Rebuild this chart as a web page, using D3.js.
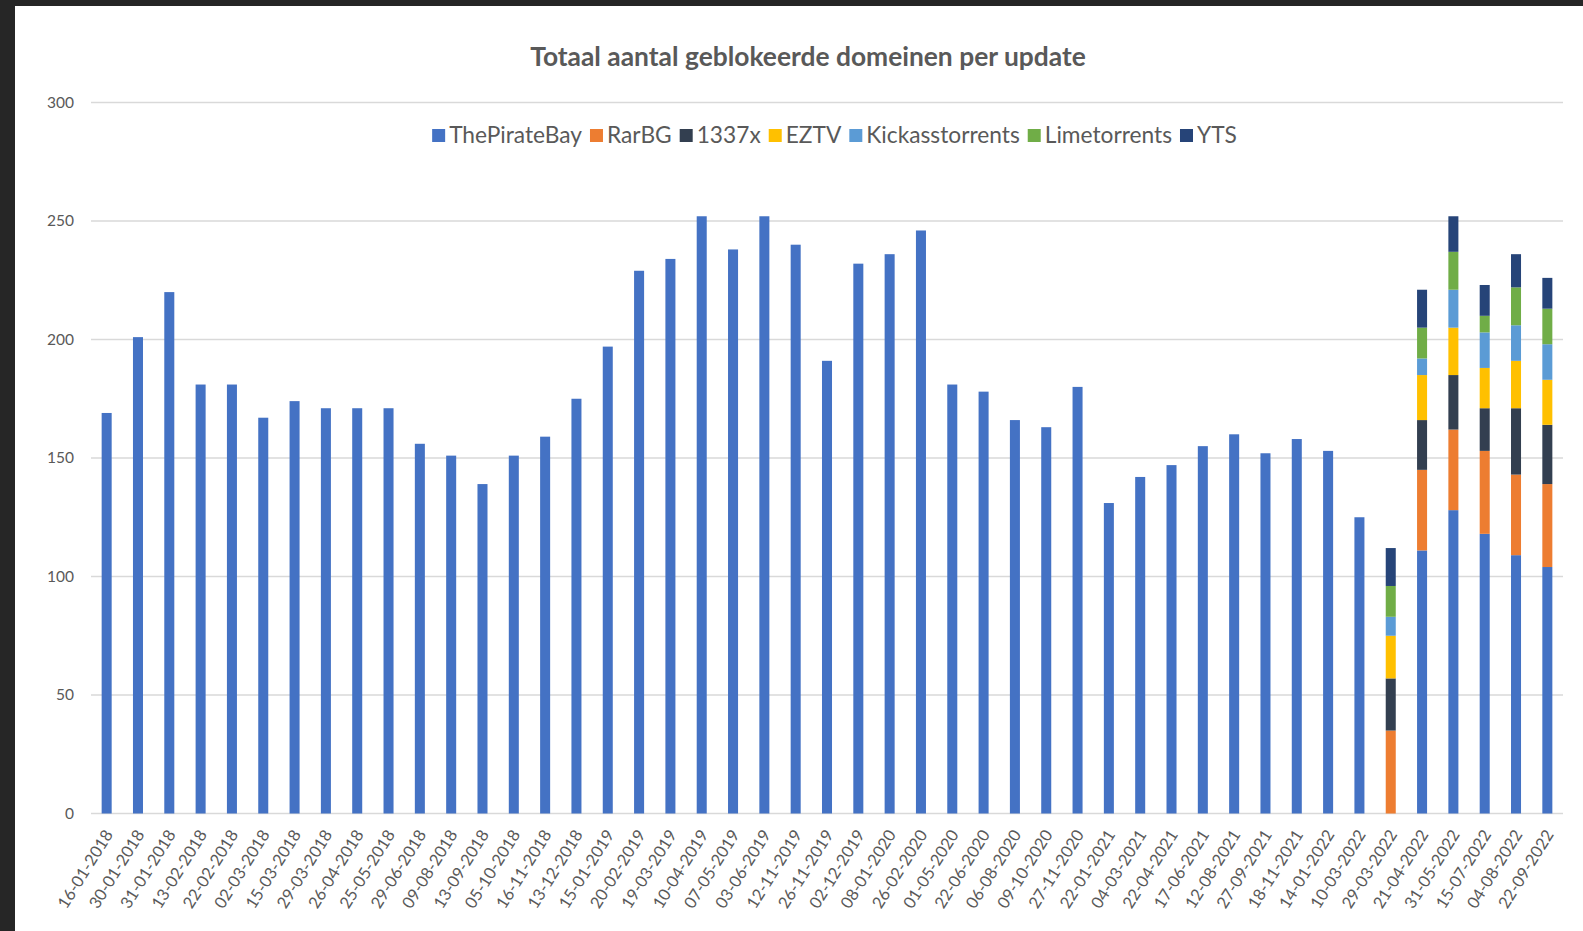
<!DOCTYPE html>
<html>
<head>
<meta charset="utf-8">
<script src="https://cdn.jsdelivr.net/npm/d3@7"></script>
<style>
  html, body { margin: 0; padding: 0; background: #262626; }
  svg { display: block; }
</style>
</head>
<body>
<svg id="chart" width="1583" height="931"></svg>
<script>
const categories = ["16-01-2018","30-01-2018","31-01-2018","13-02-2018","22-02-2018","02-03-2018","15-03-2018","29-03-2018","26-04-2018","25-05-2018","29-06-2018","09-08-2018","13-09-2018","05-10-2018","16-11-2018","13-12-2018","15-01-2019","20-02-2019","19-03-2019","10-04-2019","07-05-2019","03-06-2019","12-11-2019","26-11-2019","02-12-2019","08-01-2020","26-02-2020","01-05-2020","22-06-2020","06-08-2020","09-10-2020","27-11-2020","22-01-2021","04-03-2021","22-04-2021","17-06-2021","12-08-2021","27-09-2021","18-11-2021","14-01-2022","10-03-2022","29-03-2022","21-04-2022","31-05-2022","15-07-2022","04-08-2022","22-09-2022"];

const seriesNames = ["ThePirateBay","RarBG","1337x","EZTV","Kickasstorrents","Limetorrents","YTS"];

const thePirateBay = [169,201,220,181,181,167,174,171,171,171,156,151,139,151,159,175,197,229,234,252,238,252,240,191,232,236,246,181,178,166,163,180,131,142,147,155,160,152,158,153,125,0,111,128,118,109,104];
const rarBG        = [0,0,0,0,0,0,0,0,0,0,0,0,0,0,0,0,0,0,0,0,0,0,0,0,0,0,0,0,0,0,0,0,0,0,0,0,0,0,0,0,0,35,34,34,35,34,35];
const x1337        = [0,0,0,0,0,0,0,0,0,0,0,0,0,0,0,0,0,0,0,0,0,0,0,0,0,0,0,0,0,0,0,0,0,0,0,0,0,0,0,0,0,22,21,23,18,28,25];
const eztv         = [0,0,0,0,0,0,0,0,0,0,0,0,0,0,0,0,0,0,0,0,0,0,0,0,0,0,0,0,0,0,0,0,0,0,0,0,0,0,0,0,0,18,19,20,17,20,19];
const kickass      = [0,0,0,0,0,0,0,0,0,0,0,0,0,0,0,0,0,0,0,0,0,0,0,0,0,0,0,0,0,0,0,0,0,0,0,0,0,0,0,0,0,8,7,16,15,15,15];
const limetorrents = [0,0,0,0,0,0,0,0,0,0,0,0,0,0,0,0,0,0,0,0,0,0,0,0,0,0,0,0,0,0,0,0,0,0,0,0,0,0,0,0,0,13,13,16,7,16,15];
const yts          = [0,0,0,0,0,0,0,0,0,0,0,0,0,0,0,0,0,0,0,0,0,0,0,0,0,0,0,0,0,0,0,0,0,0,0,0,0,0,0,0,0,16,16,15,13,14,13];

const yTicks = [0,50,100,150,200,250,300];
const titleText = "Totaal aantal geblokeerde domeinen per update";

const colors = ["#4472C4","#ED7D31","#333F50","#FFC000","#5B9BD5","#70AD47","#264478"];
const seriesValues = [thePirateBay, rarBG, x1337, eztv, kickass, limetorrents, yts];

const rows = categories.map((c, i) => {
  const r = {cat: c};
  seriesNames.forEach((s, k) => r[s] = seriesValues[k][i]);
  return r;
});

const svg = d3.select("#chart");
const FONT = "Lato, 'Open Sans', sans-serif";
const TXT = "#595959";

// white chart area with dark frame at top and left
svg.append("rect").attr("x", 15).attr("y", 6).attr("width", 1583 - 15).attr("height", 931 - 6).attr("fill", "#ffffff");

const x = d3.scaleBand().domain(categories).range([91, 1563]).paddingInner(0.68).paddingOuter(0.34);
const y = d3.scaleLinear().domain([0, 300]).range([813.5, 102.5]);

// gridlines
svg.append("g").selectAll("line").data(yTicks).join("line")
  .attr("x1", 91).attr("x2", 1563)
  .attr("y1", d => y(d)).attr("y2", d => y(d))
  .attr("stroke", "#D9D9D9").attr("stroke-width", 1.5);

// y axis labels
const yAxis = d3.axisLeft(y).tickValues(yTicks).tickSize(0).tickPadding(0);
const gy = svg.append("g").attr("transform", "translate(74,0)").call(yAxis);
gy.select(".domain").remove();
gy.selectAll("text").attr("fill", TXT).style("font-family", FONT).style("font-size", "15.5px");

// stacked bars
const stack = d3.stack().keys(seriesNames);
const stacked = stack(rows);
svg.append("g").selectAll("g").data(stacked).join("g")
  .attr("fill", (d, i) => colors[i])
  .selectAll("rect").data(d => d).join("rect")
  .attr("x", d => x(d.data.cat))
  .attr("width", x.bandwidth())
  .attr("y", d => y(d[1]))
  .attr("height", d => Math.max(0, y(d[0]) - y(d[1])));

// x axis labels
const xAxis = d3.axisBottom(x).tickSize(0).tickPadding(0);
const gx = svg.append("g").attr("transform", "translate(0,813.5)").call(xAxis);
gx.select(".domain").remove();
gx.selectAll("text")
  .attr("fill", TXT).style("font-family", FONT).style("font-size", "16.5px")
  .attr("text-anchor", "end")
  .attr("x", 0).attr("y", 0).attr("dy", 0)
  .attr("transform", "translate(7,21) rotate(-58)");

// title
const title = svg.append("text")
  .attr("x", 808).attr("y", 66)
  .attr("text-anchor", "middle")
  .attr("fill", TXT)
  .style("font-family", FONT).style("font-weight", "bold").style("font-size", "24px")
  .text(titleText);
const tw = title.node().getComputedTextLength();
title.style("font-size", (24 * 556 / tw) + "px");

// legend
const legend = svg.append("g");
const items = legend.selectAll("g").data(seriesNames).join("g");
items.append("rect").attr("width", 13).attr("height", 13).attr("y", -6)
  .attr("fill", (d, i) => colors[i]);
const ltexts = items.append("text").attr("x", 17).attr("y", 0).attr("dy", "0.35em")
  .attr("fill", TXT).style("font-family", FONT).style("font-size", "19px")
  .text(d => d);
const gap = 8;
const targetW = 805;
let sumText = 0;
ltexts.each(function() { sumText += this.getComputedTextLength(); });
const fixedW = seriesNames.length * 17 + (seriesNames.length - 1) * gap;
const fs = 19 * (targetW - fixedW) / sumText;
ltexts.style("font-size", fs + "px");
let cx = 0;
items.each(function() {
  const g = d3.select(this);
  g.attr("transform", `translate(${cx},0)`);
  cx += 17 + g.select("text").node().getComputedTextLength() + gap;
});
const totalW = cx - gap;
legend.attr("transform", `translate(${834.5 - totalW / 2},135)`);
</script>
</body>
</html>
